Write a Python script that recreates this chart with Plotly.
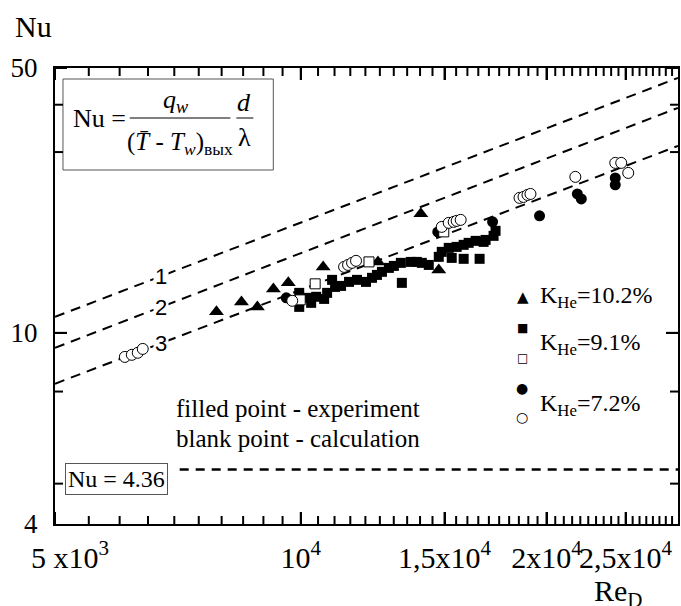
import numpy as np
import plotly.graph_objects as go

# ---------------- data ----------------
# K_He = 10.2 %  (filled triangles, experiment)
tri_re = [7884, 8460, 8849, 9257, 9654, 10652, 12433, 14030, 14759]
tri_nu = [11.36, 12.07, 11.71, 13.06, 13.55, 14.93, 15.39, 20.61, 14.66]

# K_He = 9.1 %  (filled squares, experiment)
sqf_re = [9957, 9957, 10183, 10298, 10444, 10682, 10772, 10924, 11017, 11204,
          11459, 11720, 12020, 12225, 12397, 12573, 12822, 13004, 13300, 13262,
          13640, 13873, 14070, 14349, 14759, 14884, 15179, 15308, 15524, 15833,
          15833, 16057, 16376, 16561, 16749, 16843, 17226, 17323]
sqf_nu = [12.75, 11.71, 12.37, 12.00, 12.45, 12.29, 12.75, 13.80, 13.22, 13.30,
          13.63, 13.80, 13.63, 13.97, 14.22, 14.49, 14.84, 15.02, 13.55, 15.30,
          15.39, 15.39, 15.30, 15.11, 15.87, 16.36, 16.76, 15.77, 16.86, 17.07,
          15.68, 17.28, 17.49, 15.68, 17.38, 17.59, 18.03, 18.59]

# K_He = 9.1 %  (open squares, calculation)
sqo_re = [9985, 10415, 12122, 14968]
sqo_nu = [12.22, 13.47, 15.39, 18.47]

# K_He = 7.2 %  (filled circles, experiment)
cf_re = [9600, 14718, 17178, 19611, 21817, 22063, 24280, 24280]
cf_nu = [12.37, 18.47, 19.63, 20.36, 23.26, 22.57, 25.64, 24.58]

# K_He = 7.2 %  (open circles, calculation)
co_re = [6089, 6210, 6315, 6404, 9763, 11300, 11427, 11557, 11687, 14884, 15179,
         15394, 15524, 15700, 18534, 18743, 18955, 19116, 21694, 24280, 24692, 25184]
co_nu = [8.64, 8.75, 8.86, 9.07, 12.15, 14.93, 15.11, 15.30, 15.49, 19.04, 19.51,
         19.63, 19.75, 19.87, 22.71, 22.84, 23.12, 23.26, 25.80, 28.09, 28.09, 26.43]

# correlation lines 1, 2, 3 (end points)
line_re = [5000, 28980]
line1_nu = [11.02, 47.08]
line2_nu = [9.13, 39.24]
line3_nu = [7.34, 31.15]
line_names = ["1", "2", "3"]
label_re = 6735

# laminar limit Nu = 4.36
const_re = [7107, 28980]
const_nu = [4.36, 4.36]

# axes
x_range = [5000, 28980]
y_range = [3.13, 50]
x_tickvals = [5000, 10000, 15000, 20000, 25000]
x_ticktext = ["\u00a0\u00a0\u00a0\u00a05 x10<sup>3</sup>", "10<sup>4</sup>",
              "1,5x10<sup>4</sup>", "2x10<sup>4</sup>", "2,5x10<sup>4</sup>"]
x_minor = [v for v in range(5500, 29000, 500) if v not in x_tickvals]
y_tickvals = [3.13, 10, 50]
y_ticktext = ["4", "10", "50"]
y_minor = [4, 7, 30, 40]

# ---------------- figure ----------------
W, H = 681, 606
L, R, T, B = 55, 1, 68, 82
PW, PH = W - L - R, H - T - B


def px(x):
    return (x - L) / PW


def py(y):
    return (H - B - y) / PH


LX = np.log10(x_range)
LY = np.log10(y_range)


def xfrac(v):
    # position of a Re value along the log x axis, as a fraction of the plot width
    return float((np.log10(v) - LX[0]) / (LX[1] - LX[0]))


def yfrac(v):
    return float((np.log10(v) - LY[0]) / (LY[1] - LY[0]))


SERIF = "Liberation Serif"
fig = go.Figure()

dash_style = "10px,7px"
for nu in (line1_nu, line2_nu, line3_nu):
    fig.add_trace(go.Scatter(x=line_re, y=nu, mode="lines",
                             line=dict(color="black", width=2, dash=dash_style),
                             showlegend=False, hoverinfo="skip"))
fig.add_trace(go.Scatter(x=const_re, y=const_nu, mode="lines",
                         line=dict(color="black", width=2.5, dash="9px,7px"),
                         showlegend=False, hoverinfo="skip"))

fig.add_trace(go.Scatter(x=tri_re, y=tri_nu, mode="markers",
                         marker=dict(symbol="triangle-up", size=13, color="black",
                                     line=dict(width=0)), showlegend=False))
fig.add_trace(go.Scatter(x=sqf_re, y=sqf_nu, mode="markers",
                         marker=dict(symbol="square", size=10, color="black",
                                     line=dict(width=0)), showlegend=False))
fig.add_trace(go.Scatter(x=cf_re, y=cf_nu, mode="markers",
                         marker=dict(symbol="circle", size=11, color="black",
                                     line=dict(width=0)), showlegend=False))
fig.add_trace(go.Scatter(x=sqo_re, y=sqo_nu, mode="markers",
                         marker=dict(symbol="square", size=10, color="white",
                                     line=dict(width=1, color="black")), showlegend=False))
fig.add_trace(go.Scatter(x=co_re, y=co_nu, mode="markers",
                         marker=dict(symbol="circle", size=11, color="white",
                                     line=dict(width=1, color="black")), showlegend=False))

annotations = []

# labels 1, 2, 3 on the lines
lre = np.log10(line_re)
for name, nu in zip(line_names, (line1_nu, line2_nu, line3_nu)):
    lnu = np.log10(nu)
    yv = np.interp(np.log10(label_re), lre, lnu)
    annotations.append(dict(x=np.log10(label_re), y=float(yv), xref="x", yref="y",
                            text=name, showarrow=False, bgcolor="white",
                            font=dict(family="Liberation Sans", size=22, color="black"),
                            xanchor="center", yanchor="middle", borderpad=1))

# axis titles
annotations.append(dict(x=px(33), y=py(26), xref="paper", yref="paper", text="Nu",
                        showarrow=False, font=dict(size=30), xanchor="center", yanchor="middle"))
annotations.append(dict(x=px(594), y=py(572), xref="paper", yref="paper",
                        text="Re<sub>D</sub>", showarrow=False, font=dict(size=30),
                        xanchor="left", yanchor="top"))

# formula box
annotations += [
    dict(x=px(100), y=py(118), text="Nu =", font=dict(size=26)),
    dict(x=px(176), y=py(101), text="<i>q</i><sub><i>w</i></sub>", font=dict(size=26)),
    dict(x=px(180), y=py(143), text="(<i>T\u0304</i> - <i>T</i><sub><i>w</i></sub>)<sub>вых</sub>",
         font=dict(size=25)),
    dict(x=px(245), y=py(103), text="<i>d</i>", font=dict(size=26)),
    dict(x=px(245), y=py(137), text="λ", font=dict(size=26)),
]
for a in annotations[-5:]:
    a.update(xref="paper", yref="paper", showarrow=False, xanchor="center", yanchor="middle")

# legend-like labels
sym_font = "DejaVu Sans"
legend_items = [
    ("\u25B2", 525, 297, 15),
    ("\u25A0", 524, 328, 12),
    ("\u25A1", 524, 358, 12),
    ("\u25CF", 524, 388, 14),
    ("\u25CB", 524, 417, 14),
]
for sym, x0, y0, sz in legend_items:
    annotations.append(dict(x=px(x0), y=py(y0), xref="paper", yref="paper", text=sym,
                            showarrow=False, xanchor="center", yanchor="middle",
                            font=dict(family=sym_font, size=sz, color="black")))
for txt, y0 in [("K<sub>He</sub>=10.2%", 297), ("K<sub>He</sub>=9.1%", 344),
                ("K<sub>He</sub>=7.2%", 405)]:
    annotations.append(dict(x=px(540), y=py(y0), xref="paper", yref="paper", text=txt,
                            showarrow=False, xanchor="left", yanchor="middle",
                            font=dict(size=24)))

annotations.append(dict(x=px(174), y=py(408), xref="paper", yref="paper",
                        text="filled point - experiment", showarrow=False,
                        xanchor="left", yanchor="middle", font=dict(size=25)))
annotations.append(dict(x=px(174), y=py(438), xref="paper", yref="paper",
                        text="blank point - calculation", showarrow=False,
                        xanchor="left", yanchor="middle", font=dict(size=25)))
annotations.append(dict(x=px(117), y=py(479), xref="paper", yref="paper",
                        text="Nu = 4.36", showarrow=False, xanchor="center", yanchor="middle",
                        font=dict(size=24), bgcolor="white", bordercolor="#555",
                        borderwidth=1, borderpad=2))

shapes = [
    dict(type="rect", xref="paper", yref="paper", x0=px(63), x1=px(274), y0=py(79), y1=py(170),
         line=dict(color="#555", width=1), fillcolor="rgba(0,0,0,0)", layer="above"),
    dict(type="line", xref="paper", yref="paper", x0=px(130), x1=px(231), y0=py(118), y1=py(118),
         line=dict(color="black", width=1)),
    dict(type="line", xref="paper", yref="paper", x0=px(237), x1=px(254), y0=py(118), y1=py(118),
         line=dict(color="black", width=1)),
]

# inward tick marks on all four sides, at the log-scale positions of the tick values
MAJOR, MINOR = 12, 8
tick_line = dict(color="black", width=2)
for vals, ln in ((x_tickvals, MAJOR), (x_minor, MINOR)):
    for v in vals:
        xf = xfrac(v)
        for y0, y1 in ((0, ln / PH), (1 - ln / PH, 1)):
            shapes.append(dict(type="line", xref="paper", yref="paper",
                               x0=xf, x1=xf, y0=y0, y1=y1, line=tick_line, layer="above"))
for vals, ln in ((y_tickvals[1:], MAJOR), (y_minor, MINOR)):
    for v in vals:
        yf = yfrac(v)
        for x0, x1 in ((0, ln / PW), (1 - ln / PW, 1)):
            shapes.append(dict(type="line", xref="paper", yref="paper",
                               x0=x0, x1=x1, y0=yf, y1=yf, line=tick_line, layer="above"))

axis_common = dict(type="log", showline=True, linecolor="black", linewidth=2,
                   mirror="ticks", ticks="inside", ticklen=MAJOR, tickwidth=2,
                   tickcolor="black", showgrid=False, zeroline=False)

fig.update_layout(
    width=W, height=H,
    margin=dict(l=L, r=R, t=T, b=B, pad=0),
    paper_bgcolor="white", plot_bgcolor="white",
    font=dict(family=SERIF, color="black"),
    showlegend=False,
    annotations=annotations,
    shapes=shapes,
    xaxis=dict(**axis_common, range=list(LX),
               tickmode="array", tickvals=x_tickvals, ticktext=x_ticktext, tickangle=0,
               tickfont=dict(size=30), ticklabelstandoff=6),
    yaxis=dict(**axis_common, range=list(LY),
               tickmode="array", tickvals=y_tickvals, ticktext=y_ticktext,
               tickfont=dict(size=27), ticklabelstandoff=10),
)

fig.write_html("out.html", config={"displayModeBar": False},
               post_script="document.body.style.margin='0px';"
                           "document.body.style.padding='0px';"
                           "document.body.style.overflow='hidden';")
